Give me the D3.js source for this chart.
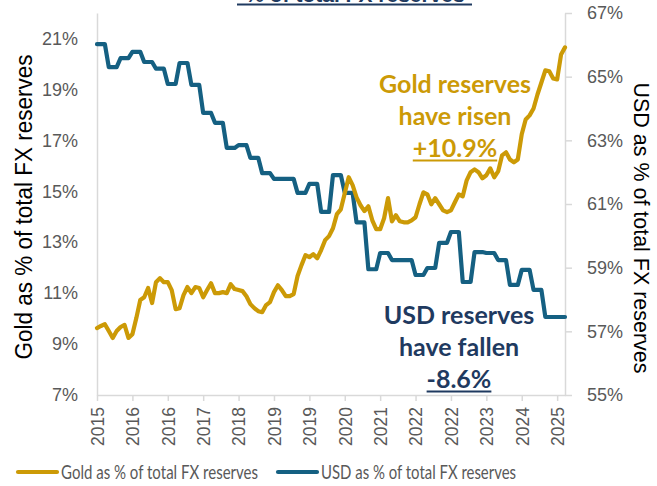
<!DOCTYPE html>
<html>
<head>
<meta charset="utf-8">
<script src="https://cdn.jsdelivr.net/npm/d3@7"></script>
<style>
  body { margin: 0; background: #fff; }
  svg { display: block; }
</style>
</head>
<body>
<svg id="chart" width="657" height="486"></svg>
<script>
// monthly categories, Apr 2015 .. Mar 2025
const months = d3.timeMonths(new Date(2015, 3, 1), new Date(2025, 3, 1));

// gold as % of total FX reserves (left axis)
const goldShare = [
  9.63, 9.71, 9.78, 9.51, 9.24, 9.51, 9.67, 9.75, 9.24, 9.39, 10.02, 10.73,
  10.84, 11.20, 10.61, 11.43, 11.59, 11.43, 11.43, 11.12, 10.37, 10.41, 10.92, 11.24,
  11.00, 11.24, 11.20, 10.84, 11.12, 11.39, 11.00, 11.00, 11.04, 11.00, 11.35, 11.16,
  11.12, 11.08, 10.88, 10.57, 10.41, 10.29, 10.25, 10.53, 10.65, 11.04, 11.31, 11.12,
  10.88, 10.88, 10.96, 11.67, 12.10, 12.49, 12.41, 12.53, 12.37, 12.69, 13.08, 13.24,
  13.55, 14.10, 14.29, 14.92, 15.55, 15.24, 14.76, 14.45, 14.22, 14.41, 13.86, 13.51,
  13.51, 13.94, 14.73, 13.82, 14.06, 13.82, 13.78, 13.78, 13.86, 13.98, 14.49, 14.96,
  14.88, 14.49, 14.73, 14.49, 14.25, 14.18, 14.25, 14.57, 14.88, 14.80, 15.43, 15.75,
  15.86, 15.75, 15.51, 15.63, 15.90, 15.55, 15.78, 16.41, 16.53, 16.25, 16.14, 16.25,
  17.24, 17.82, 17.98, 18.25, 18.80, 19.27, 19.75, 19.71, 19.43, 19.39, 20.37, 20.65
];

// USD as % of total FX reserves (right axis), quarterly figure held for each month
const usdShare = [
  66.02, 66.02, 66.02, 65.30, 65.30, 65.30, 65.58, 65.58, 65.58, 65.78, 65.78, 65.78,
  65.46, 65.46, 65.46, 65.25, 65.25, 65.25, 64.77, 64.77, 64.77, 65.43, 65.43, 65.43,
  64.74, 64.74, 64.74, 63.86, 63.86, 63.86, 63.55, 63.55, 63.55, 62.76, 62.76, 62.76,
  62.85, 62.85, 62.85, 62.45, 62.45, 62.45, 61.97, 61.97, 61.97, 61.79, 61.79, 61.79,
  61.79, 61.79, 61.79, 61.35, 61.35, 61.35, 61.63, 61.63, 61.63, 60.75, 60.75, 60.75,
  61.91, 61.91, 61.91, 61.35, 61.35, 61.35, 60.42, 60.42, 60.42, 58.95, 58.95, 58.95,
  59.46, 59.46, 59.46, 59.24, 59.24, 59.24, 59.24, 59.24, 59.24, 58.77, 58.77, 58.77,
  58.99, 58.99, 58.99, 59.78, 59.78, 59.78, 60.12, 60.12, 60.12, 58.55, 58.55, 58.55,
  59.49, 59.49, 59.49, 59.46, 59.46, 59.46, 59.24, 59.24, 59.24, 58.46, 58.46, 58.46,
  58.93, 58.93, 58.93, 58.30, 58.30, 58.30, 57.45, 57.45, 57.45, 57.45, 57.45, 57.45
];

const goldTicks = [7, 9, 11, 13, 15, 17, 19, 21];
const usdTicks = [55, 57, 59, 61, 63, 65, 67];
const xTickEvery = 9; // category label interval (months)

const GOLD = "#CC9A06";
const USD = "#156082";
const NAVY = "#1F3A60";
const GREY = "#595959";
const AXIS = "#D9D9D9";

const svg = d3.select("#chart");
const plot = { left: 97, right: 565, top: 13, bottom: 395 };

const x = d3.scalePoint()
  .domain(d3.range(months.length))
  .range([plot.left, plot.right]);
const yGold = d3.scaleLinear().domain([7, 22]).range([plot.bottom, plot.top]);
const yUsd = d3.scaleLinear().domain([55, 67]).range([plot.bottom, plot.top]);

// axes
const xAxis = svg.append("g")
  .attr("transform", `translate(0,${plot.bottom})`)
  .call(d3.axisBottom(x)
    .tickValues(d3.range(0, months.length, xTickEvery))
    .tickFormat(i => d3.timeFormat("%Y")(months[i]))
    .tickSize(6).tickSizeOuter(0));
xAxis.selectAll("text")
  .attr("transform", "rotate(-90)")
  .attr("x", -12).attr("y", 0).attr("dy", "0.36em")
  .attr("text-anchor", "end")
  .attr("fill", GREY)
  .style("font", "17.5px 'Liberation Sans', Arial, sans-serif");

const leftAxis = svg.append("g")
  .attr("transform", `translate(${plot.left},0)`)
  .call(d3.axisLeft(yGold).tickValues(goldTicks).tickFormat(d => d + "%")
    .tickSize(0).tickPadding(19).tickSizeOuter(0));
leftAxis.selectAll("text").attr("fill", GREY)
  .style("font", "18px 'Liberation Sans', Arial, sans-serif");

const rightAxis = svg.append("g")
  .attr("transform", `translate(${plot.right},0)`)
  .call(d3.axisRight(yUsd).tickValues(usdTicks).tickFormat(d => d + "%")
    .tickSize(7).tickPadding(15).tickSizeOuter(0));
rightAxis.selectAll("text").attr("fill", GREY)
  .style("font", "18px 'Liberation Sans', Arial, sans-serif");

svg.selectAll(".domain, .tick line").attr("stroke", AXIS).attr("stroke-width", 1.5);

// lines
const goldLine = d3.line().x((d, i) => x(i)).y(d => yGold(d));
const usdLine = d3.line().x((d, i) => x(i)).y(d => yUsd(d));

svg.append("path").datum(usdShare)
  .attr("d", usdLine)
  .attr("fill", "none").attr("stroke", USD).attr("stroke-width", 4.2)
  .attr("stroke-linejoin", "round").attr("stroke-linecap", "round");
svg.append("path").datum(goldShare)
  .attr("d", goldLine)
  .attr("fill", "none").attr("stroke", GOLD).attr("stroke-width", 4.2)
  .attr("stroke-linejoin", "round").attr("stroke-linecap", "round");

// axis titles (squeezed to the reference's length)
svg.append("text")
  .attr("transform", "translate(32,207) rotate(-90)")
  .attr("text-anchor", "middle")
  .attr("fill", "#000")
  .attr("textLength", 305).attr("lengthAdjust", "spacingAndGlyphs")
  .style("font", "23px 'Liberation Sans', Arial, sans-serif")
  .text("Gold as % of total FX reserves");
svg.append("text")
  .attr("transform", "translate(634,228) rotate(90)")
  .attr("text-anchor", "middle")
  .attr("fill", "#000")
  .attr("textLength", 291).attr("lengthAdjust", "spacingAndGlyphs")
  .style("font", "22px 'Liberation Sans', Arial, sans-serif")
  .text("USD as % of total FX reserves");

// cut-off title line
svg.append("text")
  .attr("x", 355).attr("y", 2)
  .attr("text-anchor", "middle")
  .attr("fill", NAVY)
  .style("font", "bold 21px 'Liberation Sans', Arial, sans-serif")
  .text("% of total FX reserves");
svg.append("line")
  .attr("x1", 237).attr("x2", 472).attr("y1", 4.5).attr("y2", 4.5)
  .attr("stroke", NAVY).attr("stroke-width", 2);

// annotations
function note(lines, cx, y0, color) {
  lines.forEach((t, k) => {
    const el = svg.append("text")
      .attr("x", cx).attr("y", y0 + k * 32)
      .attr("text-anchor", "middle")
      .attr("fill", color)
      .style("font", "bold 25px Lato, 'Open Sans', sans-serif")
      .text(t);
    if (k === lines.length - 1) {
      const w = el.node().getComputedTextLength();
      svg.append("line")
        .attr("x1", cx - w / 2).attr("x2", cx + w / 2)
        .attr("y1", y0 + k * 32 + 3.5).attr("y2", y0 + k * 32 + 3.5)
        .attr("stroke", color).attr("stroke-width", 1.8);
    }
  });
}
note(["Gold reserves", "have risen", "+10.9%"], 455, 93, GOLD);
note(["USD reserves", "have fallen", "-8.6%"], 459, 324, NAVY);

// legend
const legend = [
  { label: "Gold as % of total FX reserves", color: GOLD, x: 18, w: 197 },
  { label: "USD as % of total FX reserves", color: USD, x: 278, w: 195 }
];
legend.forEach(d => {
  svg.append("line")
    .attr("x1", d.x).attr("x2", d.x + 39).attr("y1", 472).attr("y2", 472)
    .attr("stroke", d.color).attr("stroke-width", 4.2).attr("stroke-linecap", "round");
  svg.append("text")
    .attr("x", d.x + 43).attr("y", 479)
    .attr("fill", GREY)
    .attr("textLength", d.w).attr("lengthAdjust", "spacingAndGlyphs")
    .style("font", "19px Lato, sans-serif")
    .text(d.label);
});
</script>
</body>
</html>
